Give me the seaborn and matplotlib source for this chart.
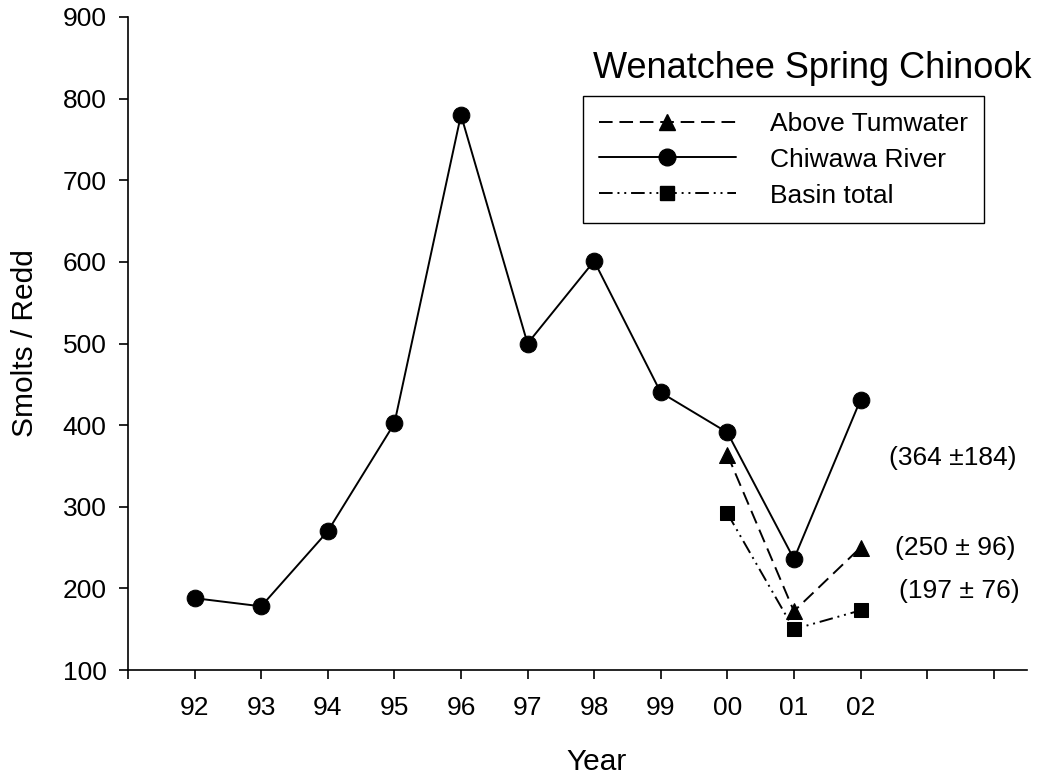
import numpy as np
import pandas as pd
import matplotlib
matplotlib.use("Agg")
import matplotlib.pyplot as plt
import seaborn as sns
from matplotlib.lines import Line2D

# ---- data ----
years = ["92", "93", "94", "95", "96", "97", "98", "99", "00", "01", "02"]
chiwawa = [188, 178, 270, 402, 780, 500, 601, 440, 391, 236, 431]
tum_years = ["00", "01", "02"]
above_tumwater = [364, 172, 250]
basin_years = ["00", "01", "02"]
basin_total = [292, 150, 173]
annotations = ["(364 \u00b1184)", "(250 \u00b1 96)", "(197 \u00b1 76)"]
annot_y = [360, 250, 197]
yticks = [100, 200, 300, 400, 500, 600, 700, 800, 900]

sns.set_style("ticks")
plt.rcParams['font.family'] = ['Liberation Sans', 'DejaVu Sans']
plt.rcParams['text.color'] = 'black'
plt.rcParams['axes.labelcolor'] = 'black'
plt.rcParams['xtick.color'] = 'black'
plt.rcParams['ytick.color'] = 'black'

pos = {y: i + 1 for i, y in enumerate(years)}
df_c = pd.DataFrame({"x": [pos[y] for y in years], "v": chiwawa})
df_t = pd.DataFrame({"x": [pos[y] for y in tum_years], "v": above_tumwater})
df_b = pd.DataFrame({"x": [pos[y] for y in basin_years], "v": basin_total})

fig = plt.figure(figsize=(10.57, 7.81), dpi=100)
ax = fig.add_axes([128/1057, (781-670)/781, 899/1057, 653/781])

lw = 1.4
fs = 19
ts_dash = (0, (7, 3.5))
bt_dash = (0, (7, 2.5, 1, 2.5, 1, 2.5))

sns.lineplot(data=df_c, x="x", y="v", ax=ax, color="black", lw=lw,
             marker="o", markersize=12, markeredgecolor="black", linestyle="-")
sns.lineplot(data=df_t, x="x", y="v", ax=ax, color="black", lw=lw,
             marker="^", markersize=12, markeredgecolor="black", linestyle=ts_dash)
sns.lineplot(data=df_b, x="x", y="v", ax=ax, color="black", lw=lw,
             marker="s", markersize=10.5, markeredgecolor="black", linestyle=bt_dash)

ax.set_xlim(0, 13.5)
ax.set_ylim(100, 900)
ax.set_xticks(np.arange(0, 14))
ax.set_xticklabels([""] + years + ["", ""])
ax.set_yticks(yticks)
ax.set_yticklabels([str(t) for t in yticks])
for s in ["top", "right"]:
    ax.spines[s].set_visible(False)
for s in ["left", "bottom"]:
    ax.spines[s].set_linewidth(1.2)
    ax.spines[s].set_color("black")
ax.tick_params(axis="both", direction="out", length=6.5, width=1.2,
               colors="black", labelsize=fs)
ax.tick_params(axis="x", pad=12)
ax.tick_params(axis="y", pad=9)

ax.set_xlabel("Year", fontsize=21.5)
ax.xaxis.set_label_coords((597-128)/899, -0.12)
ax.set_ylabel("Smolts / Redd", fontsize=21.5, labelpad=17)

fig.text(593/1057, 1 - 78/781, "Wenatchee Spring Chinook", fontsize=26,
         ha="left", va="baseline")

xs_annot = [889, 895, 899]
for txt, yv, xp in zip(annotations, annot_y, xs_annot):
    ax.text((xp-128)/899*13.5, yv, txt, fontsize=fs, ha="left", va="center")

handles = [
    Line2D([], [], color="black", lw=lw, linestyle=ts_dash, marker="^", markersize=12),
    Line2D([], [], color="black", lw=lw, linestyle="-", marker="o", markersize=12),
    Line2D([], [], color="black", lw=lw, linestyle=bt_dash, marker="s", markersize=10.5),
]
labels = ["Above Tumwater", "Chiwawa River", "Basin total"]
leg = ax.legend(handles, labels, loc="upper left",
                bbox_to_anchor=((583-128)/899, (670-96)/653),
                borderaxespad=0, frameon=True, fancybox=False, fontsize=fs,
                handlelength=5.2, handletextpad=1.3, labelspacing=0.45,
                borderpad=0.6, framealpha=1)
leg.get_frame().set_edgecolor("black")
leg.get_frame().set_linewidth(1.0)

ax.set_facecolor("white")
fig.patch.set_facecolor("white")
fig.savefig("out.png", dpi=100, facecolor="white")
